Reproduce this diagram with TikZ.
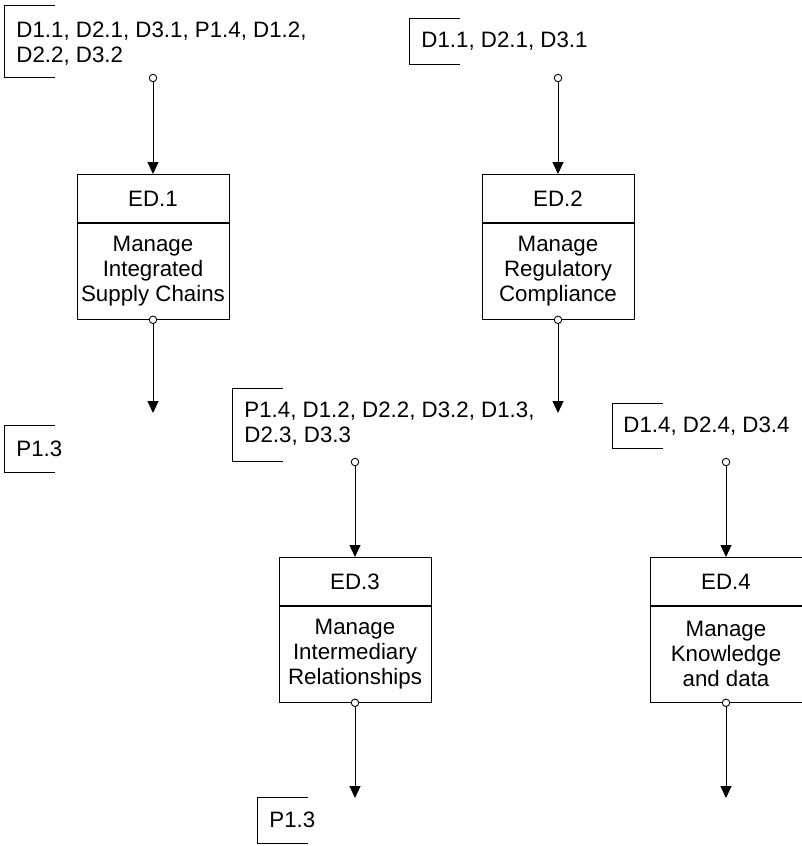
\documentclass[tikz,border=0pt]{standalone}
\usepackage{fontspec}
\setmainfont{Liberation Sans}
\usetikzlibrary{arrows.meta}
\begin{document}
\begin{tikzpicture}[x=1pt,y=-1pt,
  font=\fontsize{22.3}{25}\selectfont,
  line width=0.9pt,
  headbox/.style={draw, minimum width=152pt, minimum height=48pt, inner sep=0pt, anchor=north},
  bodybox/.style={draw, minimum width=152pt, minimum height=96pt, inner sep=0pt, anchor=north, align=center},
  port/.style={draw, circle, fill=white, minimum size=7.5pt, inner sep=0pt},
  conn/.style={-{Triangle[length=12pt,width=11pt]}},
  lbl/.style={anchor=west, align=left, inner sep=0pt},
  brk/.style={line width=0.8pt}
]
\useasboundingbox (0,0) rectangle (801,846);

% ---- boxes ----
\node[headbox] (ED1h) at (153,174) {ED.1};
\node[bodybox] (ED1b) at (ED1h.south) {Manage\\Integrated\\Supply Chains};
\node[headbox] (ED2h) at (558,174) {ED.2};
\node[bodybox] (ED2b) at (ED2h.south) {Manage\\Regulatory\\Compliance};
\node[headbox] (ED3h) at (355,557) {ED.3};
\node[bodybox] (ED3b) at (ED3h.south) {Manage\\Intermediary\\Relationships};
\node[headbox] (ED4h) at (726,557) {ED.4};
\node[bodybox] (ED4b) at (ED4h.south) {Manage\\Knowledge\\and data};

% ---- labels ----
\node[lbl] (L1) at (16,44) {D1.1, D2.1, D3.1, P1.4, D1.2,\\D2.2, D3.2};
\draw[brk] (55,5) -| (4,77) -- (55,77);
\node[lbl] (L2) at (421,41) {D1.1, D2.1, D3.1};
\draw[brk] (460,18) -| (409,64) -- (460,64);
\node[lbl] (L3) at (16,449) {P1.3};
\draw[brk] (55,425) -| (4,472) -- (55,472);
\node[lbl] (L4) at (244,424) {P1.4, D1.2, D2.2, D3.2, D1.3,\\D2.3, D3.3};
\draw[brk] (283,388) -| (232,461) -- (283,461);
\node[lbl] (L5) at (623,426) {D1.4, D2.4, D3.4};
\draw[brk] (663,403) -| (612,448) -- (663,448);
\node[lbl] (L6) at (269,820) {P1.3};
\draw[brk] (308,797) -| (257,843) -- (308,843);

% ---- ports ----
\node[port] (i1) at (153,78) {};
\node[port] (i2) at (558,78) {};
\node[port] (i3) at (355,462) {};
\node[port] (i4) at (726,462) {};
\coordinate (e1) at (153,413);
\coordinate (e2) at (558,413);
\coordinate (e3) at (355,798);
\coordinate (e4) at (726,798);

% ---- connectors ----
\draw[conn] (i1) -- (ED1h.north);
\draw[conn] (i2) -- (ED2h.north);
\draw[conn] (i3) -- (ED3h.north);
\draw[conn] (i4) -- (ED4h.north);
\draw[conn] (ED1b.south) -- (e1);
\draw[conn] (ED2b.south) -- (e2);
\draw[conn] (ED3b.south) -- (e3);
\draw[conn] (ED4b.south) -- (e4);
\node[port] (o1) at (ED1b.south) {};
\node[port] (o2) at (ED2b.south) {};
\node[port] (o3) at (ED3b.south) {};
\node[port] (o4) at (ED4b.south) {};
\end{tikzpicture}
\end{document}
